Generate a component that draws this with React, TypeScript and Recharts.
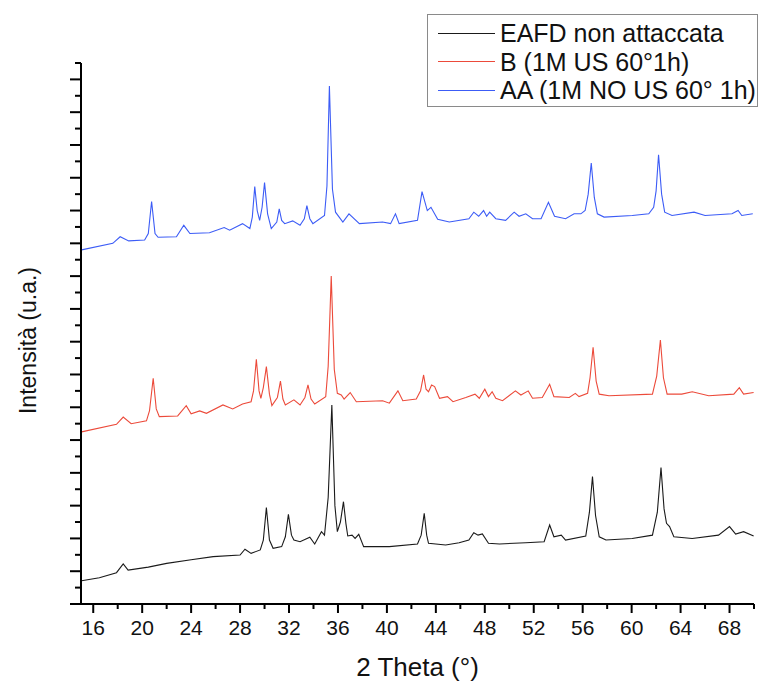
import { LineChart, Line, XAxis, YAxis, Legend } from "recharts";

// 2θ (deg) / intensity (offset a.u.)
const eafdScan: [number, number][] = [
  [15.05, 1.42], [16.5, 1.6], [17.9, 1.91], [18.2, 2.2], [18.45, 2.44], [18.85, 2.07],
  [20.5, 2.25], [22.0, 2.48], [24.0, 2.7], [25.8, 2.89], [28.0, 2.99], [28.4, 3.34],
  [28.9, 3.09], [29.65, 3.3], [29.9, 3.9], [30.15, 5.88], [30.4, 3.9], [30.7, 3.4],
  [31.4, 3.5], [31.7, 4.1], [31.95, 5.47], [32.2, 4.2], [32.4, 3.9], [32.9, 3.8],
  [33.7, 4.07], [34.1, 3.66], [34.65, 4.41], [34.9, 4.2], [35.2, 6.5], [35.5, 12.14],
  [35.75, 6.0], [35.95, 4.41], [36.2, 5.0], [36.45, 6.24], [36.65, 4.9], [36.8, 4.15],
  [37.15, 4.2], [37.4, 4.0], [37.7, 4.25], [38.1, 3.5], [40.2, 3.5], [42.5, 3.66],
  [42.8, 4.2], [43.05, 5.53], [43.25, 4.2], [43.4, 3.7], [44.8, 3.6], [45.9, 3.74],
  [46.7, 3.9], [47.1, 4.35], [47.45, 4.2], [47.8, 4.27], [48.3, 3.7], [49.2, 3.66],
  [51.35, 3.74], [52.85, 3.8], [53.3, 4.82], [53.65, 4.1], [54.25, 4.2], [54.6, 3.9],
  [56.25, 4.15], [56.55, 5.6], [56.8, 7.77], [57.05, 5.4], [57.35, 4.1], [57.9, 3.9],
  [60.05, 4.0], [61.7, 4.2], [62.1, 5.6], [62.4, 8.32], [62.65, 5.8], [62.85, 4.92],
  [63.1, 4.72], [63.45, 4.1], [64.95, 4.0], [67.1, 4.2], [68.0, 4.72], [68.5, 4.27],
  [69.15, 4.41], [69.97, 4.15],
];

const usScan: [number, number][] = [
  [15.05, 10.5], [17.9, 10.96], [18.45, 11.4], [19.1, 11.0], [20.35, 11.17],
  [20.6, 11.8], [20.9, 13.77], [21.15, 11.9], [21.4, 11.43], [22.9, 11.47],
  [23.6, 12.1], [24.0, 11.6], [24.7, 11.78], [25.25, 11.63], [26.6, 12.14],
  [27.4, 11.9], [28.2, 12.2], [28.9, 12.34], [29.1, 13.0], [29.33, 14.93],
  [29.55, 13.0], [29.7, 12.55], [29.9, 13.2], [30.15, 14.48], [30.4, 12.8],
  [30.6, 12.1], [31.05, 12.6], [31.3, 13.6], [31.5, 12.5], [31.7, 12.14],
  [32.4, 12.45], [32.9, 12.14], [33.3, 12.6], [33.55, 13.36], [33.8, 12.5],
  [34.1, 12.2], [35.0, 12.65], [35.2, 14.5], [35.45, 20.0], [35.7, 14.3],
  [35.95, 12.85], [36.27, 12.75], [36.5, 12.5], [37.0, 12.9], [37.5, 12.34],
  [39.65, 12.4], [40.2, 12.25], [40.9, 13.0], [41.3, 12.4], [42.4, 12.5],
  [42.75, 13.0], [43.0, 13.97], [43.2, 13.1], [43.4, 12.95], [43.65, 13.36],
  [43.9, 13.26], [44.3, 12.55], [44.95, 12.65], [45.4, 12.34], [46.45, 12.6],
  [47.2, 12.8], [47.55, 12.55], [48.0, 13.1], [48.3, 12.65], [48.6, 12.95],
  [48.9, 12.55], [49.45, 12.4], [50.5, 13.0], [50.95, 12.75], [51.55, 13.0],
  [51.9, 12.55], [52.7, 12.6], [53.3, 13.4], [53.65, 12.65], [54.9, 12.6],
  [55.4, 12.85], [55.7, 12.65], [56.4, 12.85], [56.6, 13.8], [56.85, 15.66],
  [57.1, 13.6], [57.35, 12.8], [58.15, 12.7], [61.7, 12.8], [62.05, 13.9],
  [62.35, 16.1], [62.6, 13.8], [62.9, 12.8], [64.1, 12.8], [64.95, 12.95],
  [66.3, 12.7], [68.35, 12.8], [68.8, 13.2], [69.15, 12.8], [69.97, 12.9],
];

const noUsScan: [number, number][] = [
  [15.05, 21.6], [17.6, 22.0], [18.2, 22.4], [18.9, 22.15], [20.2, 22.2],
  [20.5, 22.6], [20.77, 24.55], [21.05, 22.6], [21.3, 22.37], [22.8, 22.4],
  [23.4, 23.1], [23.9, 22.6], [25.5, 22.65], [26.7, 22.96], [27.15, 22.8],
  [28.2, 23.2], [28.8, 22.9], [29.0, 23.6], [29.2, 25.46], [29.4, 24.0],
  [29.6, 23.4], [29.8, 24.2], [30.0, 25.7], [30.25, 23.8], [30.55, 22.9],
  [31.0, 23.3], [31.2, 24.1], [31.4, 23.4], [31.65, 23.2], [32.3, 23.37],
  [32.9, 23.1], [33.25, 23.5], [33.46, 24.3], [33.7, 23.5], [33.95, 23.2],
  [34.9, 23.7], [35.1, 25.5], [35.3, 31.6], [35.55, 25.3], [35.8, 23.9],
  [36.4, 23.3], [36.9, 23.8], [37.75, 23.2], [39.65, 23.3], [40.3, 23.2],
  [40.7, 23.8], [41.0, 23.2], [42.5, 23.4], [42.87, 25.15], [43.3, 24.0],
  [43.6, 24.2], [44.15, 23.47], [45.1, 23.3], [46.7, 23.5], [47.1, 23.9],
  [47.5, 23.65], [47.9, 24.0], [48.15, 23.65], [48.4, 23.9], [48.9, 23.5],
  [49.7, 23.4], [50.4, 23.9], [50.8, 23.65], [51.35, 23.8], [51.9, 23.5],
  [52.6, 23.5], [53.2, 24.5], [53.7, 23.65], [54.6, 23.5], [55.3, 23.8],
  [55.85, 23.8], [56.2, 24.0], [56.45, 25.0], [56.7, 26.9], [56.95, 24.8],
  [57.2, 23.8], [57.75, 23.6], [60.05, 23.7], [61.4, 23.8], [61.8, 24.2],
  [62.0, 25.2], [62.2, 27.4], [62.45, 25.0], [62.7, 23.9], [63.3, 23.7],
  [65.1, 23.9], [66.0, 23.7], [68.2, 23.8], [68.7, 24.0], [69.0, 23.7],
  [69.9, 23.8],
];

const seriesNames = ["EAFD non attaccata", "B (1M US 60°1h)", "AA (1M NO US 60° 1h)"];
const seriesColors = ["#1a1a1a", "#ec4a3a", "#3c5cf6"];
const scans = [eafdScan, usScan, noUsScan];

const xTicks = [16, 18, 20, 22, 24, 26, 28, 30, 32, 34, 36, 38, 40, 42, 44, 46, 48, 50, 52, 54, 56, 58, 60, 62, 64, 66, 68, 70];
const yTicks = Array.from({ length: 34 }, (_, i) => i);

const FONT = '"Liberation Sans", Arial, sans-serif';

const XTick = (props: any) => {
  const { x, y, payload } = props;
  const major = (payload.value - 16) % 4 === 0;
  return (
    <g>
      <line x1={x} x2={x} y1={y} y2={y + (major ? 9 : 5)} stroke="#000" strokeWidth={2} />
      {major && (
        <text x={x} y={y + 31} textAnchor="middle" fontSize={21} fontFamily={FONT} fill="#111">
          {payload.value}
        </text>
      )}
    </g>
  );
};

const YTick = (props: any) => {
  const { x, y, payload } = props;
  const len = payload.value % 2 === 0 ? 11 : 6;
  return <line x1={x - len} x2={x} y1={y} y2={y} stroke="#000" strokeWidth={2} />;
};

const YTitle = (props: any) => {
  const { viewBox } = props;
  const cx = 28;
  const cy = viewBox.y + viewBox.height / 2 + 7;
  return (
    <text x={cx} y={cy} transform={`rotate(-90 ${cx} ${cy})`} textAnchor="middle" dominantBaseline="central" fontSize={23} fontFamily={FONT} fill="#111">
      Intensità (u.a.)
    </text>
  );
};

const LegendBox = () => (
  <div
    style={{
      border: "1.5px solid #8a8a8a",
      background: "#fff",
      padding: "4px 0 4px 10px",
      fontFamily: FONT,
      fontSize: 25,
      lineHeight: "28.5px",
      color: "#111",
      boxSizing: "border-box",
      width: 331,
      height: 93,
    }}
  >
    {seriesNames.map((name, i) => (
      <div key={name} style={{ display: "flex", alignItems: "center", whiteSpace: "nowrap" }}>
        <span style={{ display: "inline-block", width: 57, height: 0, borderTop: `1.5px solid ${seriesColors[i]}`, marginRight: 5 }} />
        {name}
      </div>
    ))}
  </div>
);

export default function App() {
  return (
    <div style={{ position: "absolute", left: 0, top: 0, width: 760, height: 682, background: "#fff" }}>
      <LineChart width={760} height={682} margin={{ top: 63, right: 6, bottom: 0, left: 0 }}>
        <XAxis
          type="number"
          dataKey="theta"
          domain={[15, 70]}
          ticks={xTicks}
          allowDataOverflow
          height={78}
          tickSize={0}
          tickMargin={0}
          tickLine={false}
          axisLine={{ stroke: "#000", strokeWidth: 2 }}
          tick={<XTick />}
          interval={0}
          label={{ value: "2 Theta (°)", position: "insideBottom", offset: 6, fontSize: 26, fontFamily: FONT, fill: "#111" }}
        />
        <YAxis
          type="number"
          dataKey="intensity"
          domain={[0, 33]}
          ticks={yTicks}
          allowDataOverflow
          width={81}
          tickSize={0}
          tickMargin={0}
          tickLine={false}
          axisLine={{ stroke: "#000", strokeWidth: 2 }}
          tick={<YTick />}
          interval={0}
          label={<YTitle />}
        />
        <Legend
          layout="vertical"
          align="center"
          verticalAlign="middle"
          wrapperStyle={{ left: 427, top: 14, width: 331, height: 93 }}
          content={<LegendBox />}
        />
        {scans.map((scan, i) => (
          <Line
            key={seriesNames[i]}
            name={seriesNames[i]}
            data={scan.map(([theta, intensity]) => ({ theta, intensity }))}
            dataKey="intensity"
            type="linear"
            stroke={seriesColors[i]}
            strokeWidth={1.1}
            dot={false}
            activeDot={false}
            isAnimationActive={false}
          />
        ))}
      </LineChart>
    </div>
  );
}
